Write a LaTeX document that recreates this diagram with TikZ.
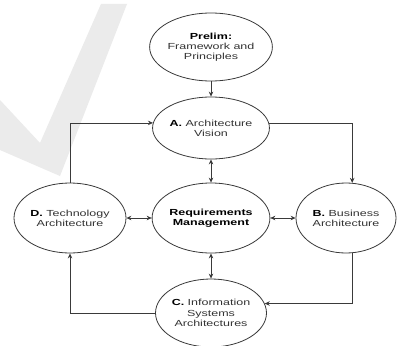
\documentclass[tikz,border=0pt]{standalone}
\usepackage{fontspec}
\setmainfont[FakeStretch=1.42]{Liberation Sans}
\usetikzlibrary{shapes.geometric,arrows.meta}
\definecolor{lin}{HTML}{3A3A3A}
\definecolor{txt}{HTML}{333333}
\definecolor{wm}{HTML}{EBEBEB}
\tikzset{
  stage/.style={ellipse, draw=lin, line width=0.8pt, fill=white, inner sep=0pt,
    align=center, text=txt, font=\fontsize{8.8}{10.2}\selectfont},
  arr/.style={draw=lin, line width=0.8pt, -{Stealth[length=5pt,width=4.5pt]}},
  darr/.style={draw=lin, line width=0.8pt, {Stealth[length=5pt,width=4.5pt]}-{Stealth[length=5pt,width=4.5pt]}},
}
\begin{document}
\begin{tikzpicture}[x=1pt,y=-1pt]
\useasboundingbox (0,0) rectangle (398,345);
\fill[white] (0,0) rectangle (398,345);
% watermark
\fill[wm] (101,4) -- (127,4) -- (60,176) -- (0,150) -- (0,100) -- (40,143) -- cycle;
% nodes
\node[stage, minimum width=104pt, minimum height=68pt] (P) at (211,47)
  {\textbf{\color{black}Prelim:}\\Framework and\\Principles};
\node[stage, minimum width=110pt, minimum height=62pt] (A) at (211,128)
  {\textbf{\color{black}A.} Architecture\\Vision};
\node[stage, minimum width=108pt, minimum height=70pt] (R) at (211,218)
  {\textbf{\color{black}Requirements}\\\textbf{\color{black}Management}};
\node[stage, minimum width=106pt, minimum height=70pt] (D) at (70,218)
  {\textbf{\color{black}D.} Technology\\Architecture};
\node[stage, minimum width=100pt, minimum height=70pt] (B) at (346,218)
  {\textbf{\color{black}B.} Business\\Architecture};
\node[stage, minimum width=108pt, minimum height=68pt] (C) at (211,313)
  {\textbf{\color{black}C.} Information\\Systems\\Architectures};
% connectors
\draw[arr] (P) -- (A);
\draw[darr] (A) -- (R);
\draw[darr] (D) -- (R);
\draw[darr] (R) -- (B);
\draw[darr] (R) -- (C);
\draw[arr] (A.5) -| (B.80);
\draw[arr] (B.280) |- (C.10);
\draw[arr] (C.west) -| (D.south);
\draw[arr] (D.north) |- (A.175);
\end{tikzpicture}
\end{document}
